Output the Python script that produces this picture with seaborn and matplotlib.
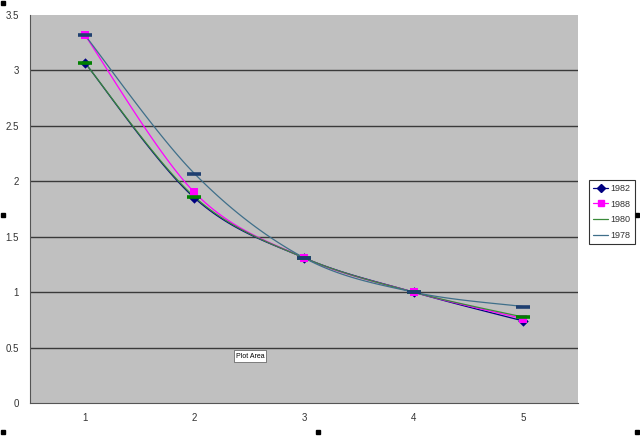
import numpy as np
import pandas as pd
import matplotlib
matplotlib.use("Agg")
import matplotlib.pyplot as plt
import seaborn as sns
from matplotlib.lines import Line2D

# data
categories = [1, 2, 3, 4, 5]
y_1982 = [3.07, 1.85, 1.31, 1.0, 0.74]
y_1988 = [3.32, 1.90, 1.31, 1.0, 0.76]
y_1980 = [3.07, 1.86, 1.31, 1.0, 0.775]
y_1978 = [3.32, 2.07, 1.31, 1.0, 0.87]

series = [
    # label, values, line colour, marker, marker colour
    ("1982", y_1982, "#000080", "D", "#000080"),
    ("1988", y_1988, "#FF00FF", "s", "#FF00FF"),
    ("1980", y_1980, "#3A8A3A", "_", "#008000"),
    ("1978", y_1978, "#3F6F8A", "_", "#1F3F70"),
]


def smooth(x, y, n=30):
    # catmull-rom curve through the points, like Excel's smoothed line
    x = np.asarray(x, float)
    y = np.asarray(y, float)
    px = np.concatenate([[x[0]], x, [x[-1]]])
    py = np.concatenate([[y[0]], y, [y[-1]]])
    xs, ys = [], []
    t = np.linspace(0, 1, n)
    for i in range(1, len(px) - 2):
        for p, out in ((px, xs), (py, ys)):
            p0, p1, p2, p3 = p[i - 1], p[i], p[i + 1], p[i + 2]
            out.extend(0.5 * ((2 * p1) + (-p0 + p2) * t
                              + (2 * p0 - 5 * p1 + 4 * p2 - p3) * t ** 2
                              + (-p0 + 3 * p1 - 3 * p2 + p3) * t ** 3))
    return xs, ys


sns.set_style("white")
plt.rcParams["font.family"] = ["Liberation Sans", "DejaVu Sans"]

fig = plt.figure(figsize=(6.4, 4.38), dpi=100)
ax = fig.add_axes([30 / 640, 35 / 438, 548 / 640, 388 / 438])
ax.set_facecolor("#C0C0C0")

for lab, vals, lc, mk, mc in series:
    sx, sy = smooth(categories, vals)
    ax.plot(sx, sy, color=lc, lw=0.9, zorder=3)

for lab, vals, lc, mk, mc in series:
    df = pd.DataFrame({"x": categories, "y": vals})
    if mk == "_":
        sns.scatterplot(data=df, x="x", y="y", ax=ax, marker="_", s=110,
                        color=mc, linewidth=2.6, zorder=4, legend=False)
    else:
        sns.scatterplot(data=df, x="x", y="y", ax=ax, marker=mk,
                        s=28 if mk == "D" else 34, color=mc,
                        edgecolor=mc, linewidth=0, zorder=4, legend=False)

ax.set_xlim(0.5, 5.5)
ax.set_ylim(0, 3.5)
ax.set_xlabel("")
ax.set_ylabel("")

for g in np.arange(0.5, 3.01, 0.5):
    ax.axhline(g, color="#3A3A3A", lw=1.0, zorder=1)

ax.set_yticks(np.arange(0, 3.51, 0.5))
ax.set_yticklabels(["0", "0.5", "1", "1.5", "2", "2.5", "3", "3.5"])
ax.set_xticks(np.arange(0.5, 5.51, 1), minor=False)
ax.set_xticklabels([])
ax.set_xticks(categories, minor=True)
ax.set_xticklabels([str(c) for c in categories], minor=True)
ax.tick_params(axis="x", which="major", length=4, width=0.8, color="#555555", direction="out")
ax.tick_params(axis="x", which="minor", length=0, pad=7, labelsize=7, labelcolor="#333333")
ax.tick_params(axis="y", length=4, width=0.8, color="#555555", direction="out",
               labelsize=7, labelcolor="#333333", pad=4)
for side in ("top", "right"):
    ax.spines[side].set_visible(False)
for side in ("left", "bottom"):
    ax.spines[side].set_color("#555555")
    ax.spines[side].set_linewidth(0.8)

handles = []
for lab, vals, lc, mk, mc in series:
    if mk == "_":
        handles.append(Line2D([], [], color=lc, lw=0.9, label=lab))
    else:
        handles.append(Line2D([], [], color=lc, lw=0.9, marker=mk,
                              markersize=4, markerfacecolor=mc,
                              markeredgecolor=mc, label=lab))
leg = fig.legend(handles=handles, loc="center left",
                 bbox_to_anchor=(589 / 640, 1 - 212 / 438),
                 frameon=True, fancybox=False, fontsize=6.5,
                 handlelength=1.7, handletextpad=0.25, labelspacing=0.75,
                 borderpad=0.45, borderaxespad=0)
leg.get_frame().set_edgecolor("black")
leg.get_frame().set_linewidth(0.8)
for t in leg.get_texts():
    t.set_color("#333333")

# "Plot Area" tooltip
fig.text(250 / 640, 1 - 356 / 438, "Plot Area", fontsize=5, ha="center", va="center",
         color="black",
         bbox=dict(boxstyle="square,pad=0.3", facecolor="white", edgecolor="#555555", lw=0.5))

# selection handles of the chart area
for hx, hy in [(3, 3), (3, 215), (637, 215), (3, 432), (318, 432), (637, 432)]:
    fig.patches.append(plt.Rectangle(((hx - 2) / 640, 1 - (hy + 2) / 438), 4 / 640, 4 / 438,
                                     transform=fig.transFigure, color="black"))

fig.savefig("out.png", dpi=100)
